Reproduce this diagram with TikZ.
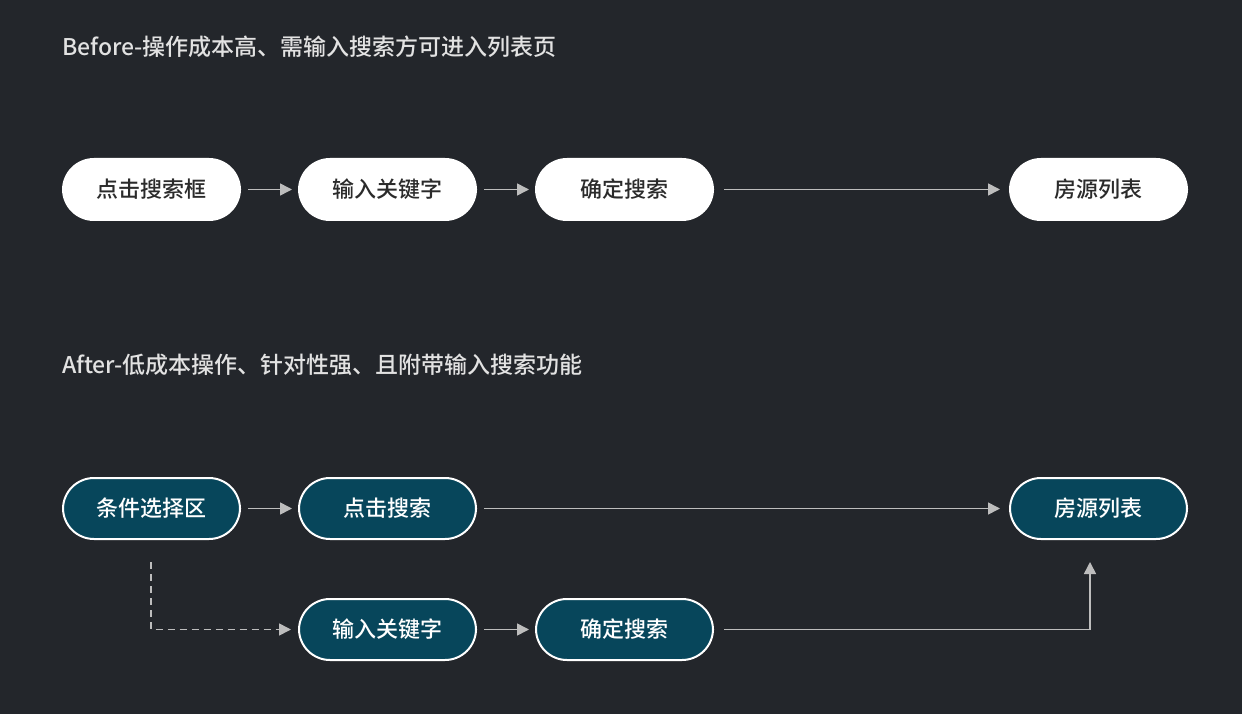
\documentclass[tikz,border=0pt]{standalone}
\usepackage{fontspec}
\setmainfont{Noto Sans CJK SC}[UprightFont=* Medium, BoldFont=* Bold]
\usetikzlibrary{arrows.meta}
\definecolor{bg}{HTML}{23262B}
\definecolor{teal}{HTML}{07465B}
\definecolor{arr}{HTML}{BDBDBD}
\definecolor{darktext}{HTML}{2B2B2B}
\definecolor{titletext}{HTML}{E2E2E2}
\tikzset{
  pill/.style={draw=white, line width=2pt, rounded corners=31pt, minimum width=177pt, minimum height=61pt, inner sep=0pt, font=\fontsize{22}{26}\selectfont},
  whitepill/.style={pill, fill=white, text=darktext},
  tealpill/.style={pill, fill=teal, text=white},
  flow/.style={draw=arr, line width=1.6pt, -{Triangle[length=12pt,width=12pt]}},
  headlabel/.style={anchor=west, text=titletext, font=\fontsize{23}{28}\selectfont, inner sep=0pt}
}
\begin{document}
\begin{tikzpicture}[x=1pt,y=-1pt]
\fill[bg] (0,0) rectangle (1242,714);
\useasboundingbox (0,0) rectangle (1242,714);
\node[headlabel] (t1) at (62,46.5) {Before-操作成本高、需输入搜索方可进入列表页};
\node[headlabel] (t2) at (62,365) {After-低成本操作、针对性强、且附带输入搜索功能};
% before row
\node[whitepill] (a1) at (151.5,189.5) {点击搜索框};
\node[whitepill] (a2) at (387.5,189.5) {输入关键字};
\node[whitepill] (a3) at (624.5,189.5) {确定搜索};
\node[whitepill] (a4) at (1098.5,189.5) {房源列表};
\draw[flow] ([xshift=7pt]a1.east) -- ([xshift=-6pt]a2.west);
\draw[flow] ([xshift=7pt]a2.east) -- ([xshift=-6pt]a3.west);
\draw[flow] ([xshift=10pt]a3.east) -- ([xshift=-9pt]a4.west);
% after rows
\node[tealpill] (b1) at (151.5,508.5) {条件选择区};
\node[tealpill] (b2) at (387.5,508.5) {点击搜索};
\node[tealpill] (b3) at (1098.5,508.5) {房源列表};
\node[tealpill] (c1) at (387.5,629.5) {输入关键字};
\node[tealpill] (c2) at (624.5,629.5) {确定搜索};
\draw[flow] ([xshift=7pt]b1.east) -- ([xshift=-6pt]b2.west);
\draw[flow] ([xshift=7pt]b2.east) -- ([xshift=-9pt]b3.west);
\draw[flow] ([xshift=7pt]c1.east) -- ([xshift=-6pt]c2.west);
\coordinate (d0) at (151,562);
\coordinate (u0) at (1090,562);
\draw[flow, dashed, dash pattern=on 7pt off 5pt] (d0) |- ([xshift=-7pt]c1.west);
\draw[flow] ([xshift=10pt]c2.east) -| (u0);
\end{tikzpicture}
\end{document}
